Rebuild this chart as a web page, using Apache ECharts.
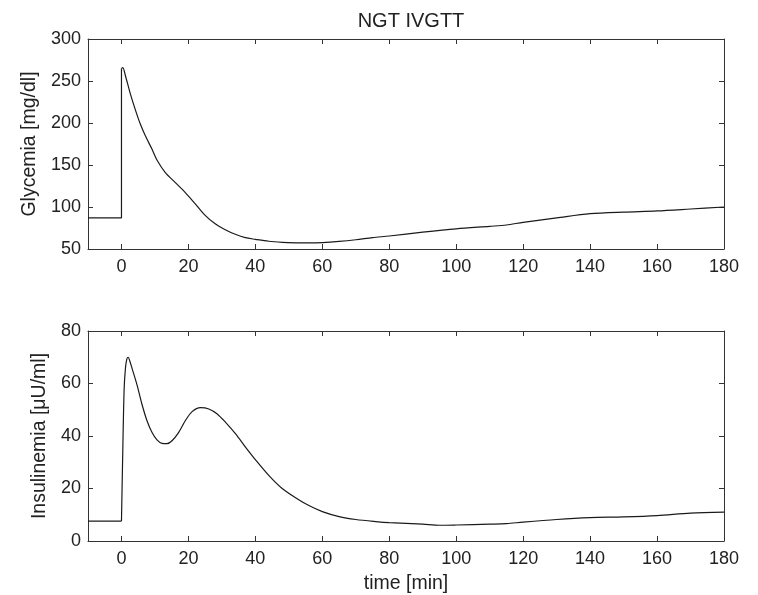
<!DOCTYPE html>
<html>
<head>
<meta charset="utf-8">
<script src="https://cdn.jsdelivr.net/npm/echarts@6/dist/echarts.min.js"></script>
<style>html,body{margin:0;padding:0;background:#fff;}#c{width:758px;height:595px;}</style>
</head>
<body>
<div id="c"></div>
<script>
const titleText = 'NGT IVGTT';
const xTicks = [0, 20, 40, 60, 80, 100, 120, 140, 160, 180];
const glucoseTicks = [50, 100, 150, 200, 250, 300];
const insulinTicks = [0, 20, 40, 60, 80];

const glucoseTime = [-10, 0, 0, 0.4, 1.2, 2.7, 4.2, 5.6, 7.1, 9.1, 10.6, 13.1, 16.1, 19, 22, 25, 28, 31, 34, 37, 40, 44, 48, 52, 56, 60, 65, 70, 75, 80, 90, 100, 110, 115, 120, 130, 140, 150, 160, 170, 180];
const glucoseValues = [87, 87, 265, 266, 256, 234, 215, 199, 185, 169, 156, 141, 129, 117.5, 104, 90, 80, 73, 67.5, 63.5, 61.5, 59.2, 58, 57.4, 57.2, 57.6, 59, 61, 63.5, 65.5, 70, 74, 77, 78.6, 81.8, 87, 92, 94, 95.3, 97.6, 100];

const insulinTime = [-10, 0, 0.4, 0.8, 1.2, 1.6, 2.0, 2.5, 3.2, 4.7, 6.1, 7.6, 9.1, 10.6, 12.1, 13.6, 15.1, 17.1, 19.1, 21.1, 23.6, 26.1, 28.6, 31.1, 34.1, 37.1, 40, 44, 48, 52, 56, 60, 65, 70, 76, 80, 90, 95, 100, 110, 115, 120, 130, 140, 150, 160, 170, 180];
const insulinValues = [7.6, 7.6, 35, 58, 66, 69.3, 70, 68.5, 65.6, 59.2, 52.2, 45.9, 41.4, 38.5, 37.2, 37.1, 38.2, 41.4, 45.9, 49.3, 50.8, 50.3, 48.4, 45.2, 40.8, 35.7, 31, 25, 20, 16.5, 13.5, 11.2, 9.3, 8.2, 7.4, 7.0, 6.4, 6.0, 6.1, 6.4, 6.6, 7.2, 8.2, 8.9, 9.2, 9.7, 10.6, 11.0];

const FONT = 'Liberation Sans, Arial, sans-serif';
const AX = '#333';
const TXT = '#222';

function zip(a, b) { return a.map((v, i) => [v, b[i]]); }

function xAx(grid, pos, labels, name) {
  return {
    type: 'value', gridIndex: grid, position: pos, min: -10, max: 180,
    splitLine: { show: false },
    axisLine: { show: true, onZero: false, lineStyle: { color: AX, width: 1 } },
    axisTick: { show: true, inside: true, length: 5, customValues: xTicks, lineStyle: { color: AX } },
    axisLabel: { show: labels, customValues: xTicks, color: TXT, fontFamily: FONT, fontSize: 18, margin: 9 },
    name: name || '', nameLocation: 'middle', nameGap: 33,
    nameTextStyle: { color: TXT, fontFamily: FONT, fontSize: 19.5 }
  };
}
function yAx(grid, pos, labels, min, max, interval, name, gap) {
  return {
    type: 'value', gridIndex: grid, position: pos, min: min, max: max, interval: interval,
    splitLine: { show: false },
    axisLine: { show: true, onZero: false, lineStyle: { color: AX, width: 1 } },
    axisTick: { show: true, inside: true, length: 5, lineStyle: { color: AX } },
    axisLabel: { show: labels, color: TXT, fontFamily: FONT, fontSize: 18, margin: 7 },
    name: name || '', nameLocation: 'middle', nameGap: gap || 0,
    nameTextStyle: { color: TXT, fontFamily: FONT, fontSize: 19.5 }
  };
}

const lineStyle = { color: '#1a1a1a', width: 1.2 };
const gPts = zip(glucoseTime, glucoseValues);
const iPts = zip(insulinTime, insulinValues);

const chart = echarts.init(document.getElementById('c'), null, { renderer: 'canvas' });
chart.setOption({
  backgroundColor: '#fff',
  animation: false,
  title: { text: titleText, left: 406, textAlign: 'center', top: 6,
    textStyle: { color: TXT, fontFamily: FONT, fontSize: 20, fontWeight: 'normal' } },
  grid: [
    { left: 88, right: 34, top: 39, height: 210 },
    { left: 88, right: 34, top: 331, height: 210 }
  ],
  xAxis: [
    xAx(0, 'bottom', true),
    xAx(0, 'top', false),
    xAx(1, 'bottom', true, 'time [min]'),
    xAx(1, 'top', false)
  ],
  yAxis: [
    yAx(0, 'left', true, 50, 300, 50, 'Glycemia [mg/dl]', 48),
    yAx(0, 'right', false, 50, 300, 50),
    yAx(1, 'left', true, 0, 80, 20, 'Insulinemia [\u03bcU/ml]', 38),
    yAx(1, 'right', false, 0, 80, 20)
  ],
  series: [
    { type: 'line', xAxisIndex: 0, yAxisIndex: 0, data: gPts.slice(0, 3),
      showSymbol: false, smooth: false, lineStyle: lineStyle },
    { type: 'line', xAxisIndex: 0, yAxisIndex: 0, data: gPts.slice(2),
      showSymbol: false, smooth: 0.3, lineStyle: lineStyle },
    { type: 'line', xAxisIndex: 2, yAxisIndex: 2, data: iPts.slice(0, 2),
      showSymbol: false, smooth: false, lineStyle: lineStyle },
    { type: 'line', xAxisIndex: 2, yAxisIndex: 2, data: iPts.slice(1),
      showSymbol: false, smooth: 0.3, lineStyle: lineStyle }
  ]
});
</script>
</body>
</html>
